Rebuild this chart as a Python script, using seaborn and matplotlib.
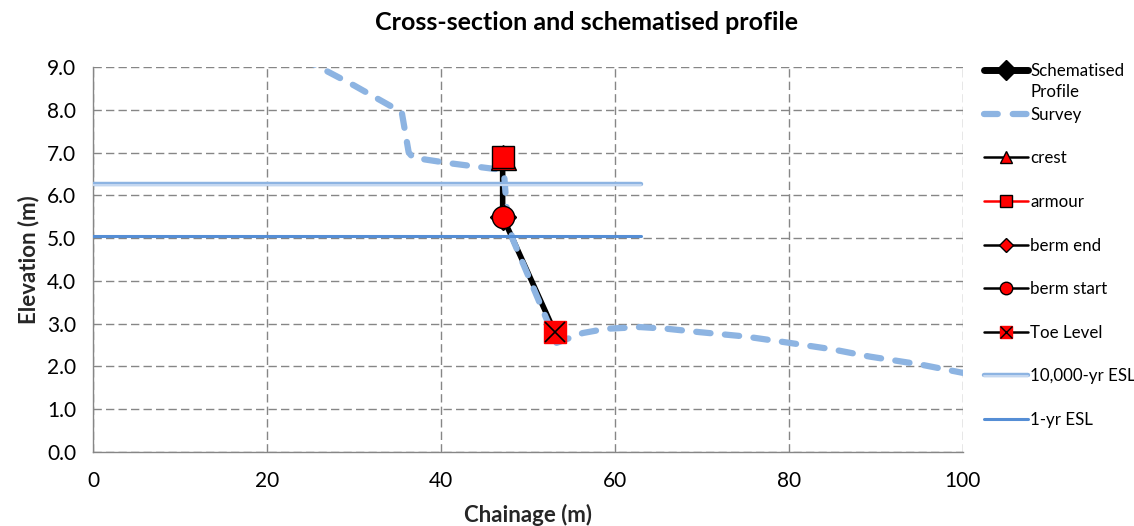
import matplotlib
matplotlib.use("Agg")
import matplotlib.pyplot as plt
import matplotlib.patheffects as pe
from matplotlib.lines import Line2D
import seaborn as sns

# survey cross-section (chainage, elevation)
survey_x = [24.0, 25.5, 30.0, 35.5, 36.3, 36.8, 41.0, 46.8, 47.3, 47.6, 48.2, 50.5, 53.3,
            56.3, 59.0, 62.9, 66.0, 69.8, 75.0, 80.1, 85.0, 89.3, 95.0, 100.0]
survey_y = [9.2, 9.05, 8.57, 7.94, 7.0, 6.88, 6.75, 6.6, 6.4, 5.6, 5.0, 3.9, 2.55,
            2.78, 2.88, 2.92, 2.88, 2.8, 2.7, 2.55, 2.4, 2.23, 2.05, 1.85]

# schematised profile
profile_x = [47.1, 47.1, 53.1]
profile_y = [6.9, 5.5, 2.8]

crest = (47.1, 6.9)
armour = (47.1, 6.9)
berm_end = (47.1, 5.5)
berm_start = (47.1, 5.5)
toe = (53.1, 2.8)

esl_x = [0, 63]
esl_10000 = 6.27
esl_1 = 5.05

sns.set_style("white")
plt.rcParams['font.family'] = ['Lato', 'DejaVu Sans']
plt.rcParams['text.color'] = 'black'

fig = plt.figure(figsize=(11.34, 5.26), dpi=100)
ax = fig.add_axes([0.082, 0.1407, 0.767, 0.732])

grey = '#868686'
survey_col = '#8DB4E2'
esl10_pe = [pe.Stroke(linewidth=3.2, foreground=survey_col),
            pe.Stroke(linewidth=1.4, foreground='#C6D9F1', offset=(0, -0.6))]

sns.lineplot(x=profile_x, y=profile_y, sort=False, estimator=None, color='black', lw=4,
             zorder=2, ax=ax)
survey_line, = ax.plot(survey_x, survey_y, color=survey_col, lw=4.5,
                       solid_capstyle='round', dash_capstyle='round', zorder=3)
survey_line.set_dashes((2.3, 2.3))

ax.plot([crest[0]], [crest[1]], ls='none', marker='^', markersize=18,
        markerfacecolor='red', markeredgecolor='black', zorder=5)
ax.plot([armour[0]], [armour[1]], ls='none', marker='s', markersize=16,
        markerfacecolor='red', markeredgecolor='black', zorder=6)
ax.plot([berm_end[0]], [berm_end[1]], ls='none', marker='D', markersize=13,
        markerfacecolor='red', markeredgecolor='black', zorder=5)
ax.plot([berm_start[0]], [berm_start[1]], ls='none', marker='o', markersize=16,
        markerfacecolor='red', markeredgecolor='black', zorder=6)
ax.plot([toe[0]], [toe[1]], ls='none', marker='s', markersize=16,
        markerfacecolor='red', markeredgecolor='red', zorder=6)
ax.plot([toe[0]], [toe[1]], ls='none', marker='x', markersize=14,
        markeredgecolor='black', markeredgewidth=1.2, zorder=7)

ax.plot(esl_x, [esl_10000, esl_10000], lw=1, path_effects=esl10_pe, zorder=4)
ax.plot(esl_x, [esl_1, esl_1], color='#558ED5', lw=2.2, zorder=4)

ax.set_xlim(0, 100)
ax.set_ylim(0, 9)
ax.set_xticks(range(0, 101, 20))
ax.set_yticks(range(0, 10))
ax.set_yticklabels([f'{v:.1f}' for v in range(0, 10)])

ax.grid(True, color=grey, linestyle=(0, (6, 3)), lw=1)
for s in ['top', 'right']:
    ax.spines[s].set_visible(False)
for s in ['left', 'bottom']:
    ax.spines[s].set_color(grey)
    ax.spines[s].set_linewidth(1)
ax.tick_params(axis='both', direction='out', length=7, color=grey, width=1,
               labelsize=15, labelcolor='black')
ax.tick_params(axis='x', pad=7)
ax.tick_params(axis='y', pad=5)

fig.text(0.5176, 0.958, 'Cross-section and schematised profile', fontsize=18,
         fontweight='bold', ha='center', va='center')
ax.set_xlabel('Chainage (m)', fontsize=16, fontweight='bold', labelpad=9)
ax.set_ylabel('Elevation (m)', fontsize=16, fontweight='bold', labelpad=6)

# legend proxies
mk = dict(markersize=9, markerfacecolor='red', markeredgecolor='black')
leg_handles = [
    Line2D([], [], color='black', lw=5, marker='D', markersize=10),
    Line2D([], [], color=survey_col, lw=4.5, dashes=(2.2, 2.4), dash_capstyle='round'),
    Line2D([], [], color='black', lw=1.8, marker='^', **mk),
    Line2D([], [], color='red', lw=1.8, marker='s', **mk),
    Line2D([], [], color='black', lw=1.8, marker='D', markersize=7,
           markerfacecolor='red', markeredgecolor='black'),
    Line2D([], [], color='black', lw=1.8, marker='o', **mk),
    (Line2D([], [], color='black', lw=1.8, marker='s', markersize=9,
            markerfacecolor='red', markeredgecolor='red'),
     Line2D([], [], ls='none', marker='x', markersize=8, markeredgecolor='black')),
    Line2D([], [], lw=1, path_effects=esl10_pe),
    Line2D([], [], color='#558ED5', lw=2.2),
]
leg_labels = ['Schematised', 'Survey', 'crest', 'armour', 'berm end',
              'berm start', 'Toe Level', '10,000-yr ESL', '1-yr ESL']
leg = fig.legend(leg_handles, leg_labels, loc='upper left',
                 bbox_to_anchor=(0.862, 0.893), frameon=False, fontsize=12.2,
                 handlelength=2.6, handletextpad=0.1, labelspacing=1.63,
                 borderaxespad=0)

# second line of the wrapped "Schematised Profile" label
fig.canvas.draw()
bb = leg.get_texts()[0].get_window_extent().transformed(fig.transFigure.inverted())
fig.text(bb.x0, bb.y0 - 0.01, 'Profile', fontsize=12.2, ha='left', va='top')

fig.savefig('out.png', dpi=100)
